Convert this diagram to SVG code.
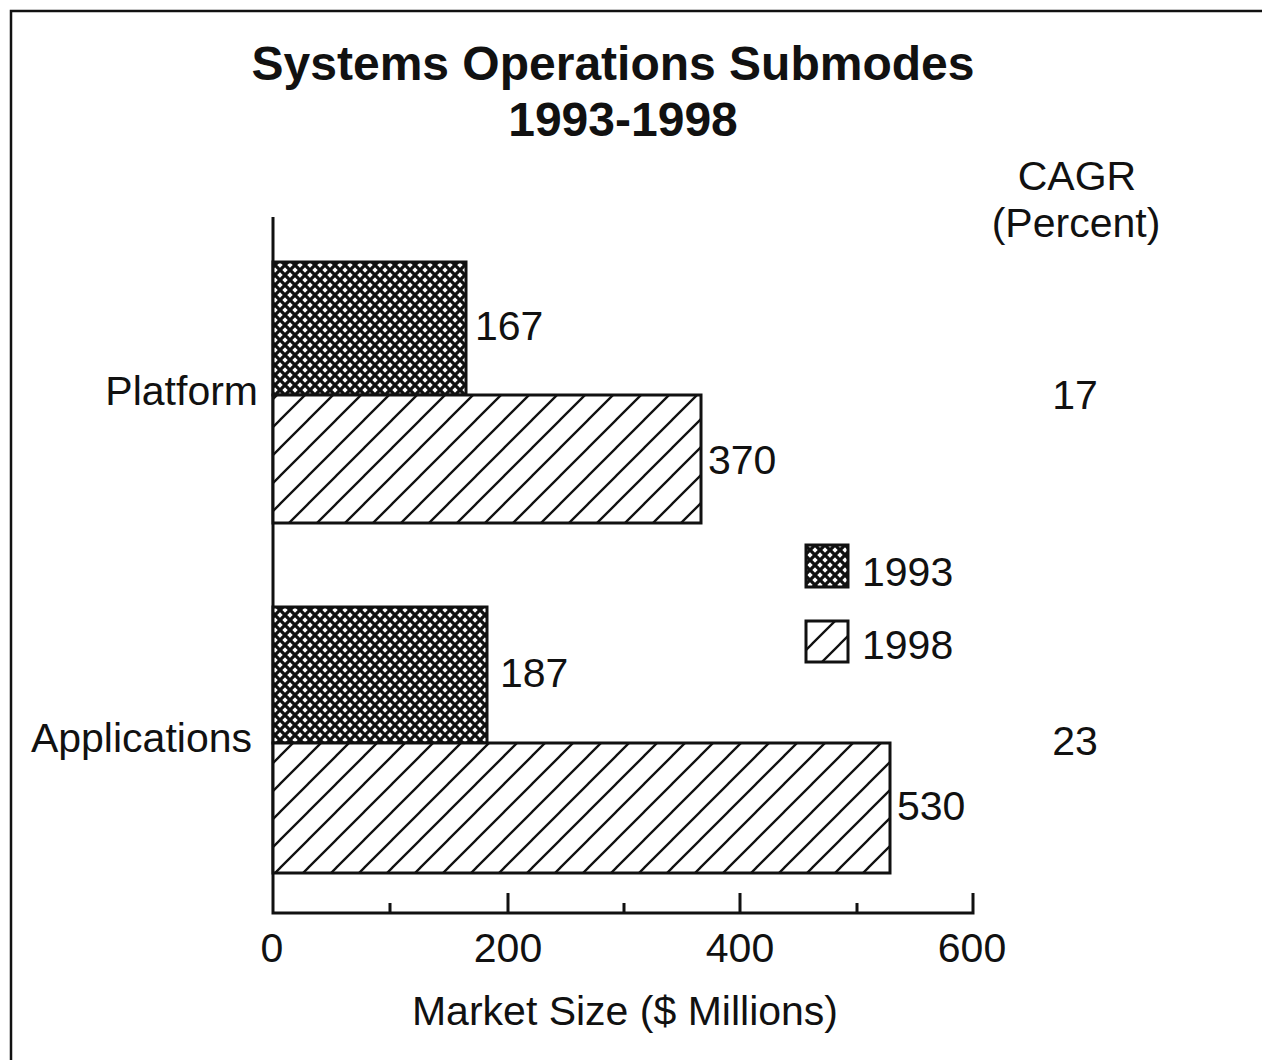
<svg xmlns="http://www.w3.org/2000/svg" width="1262" height="1060" viewBox="0 0 1262 1060">
<style>
text{font-family:"Liberation Sans",Arial,sans-serif;fill:#111;font-size:41px}
.title{font-weight:bold;font-size:48px;text-anchor:middle}
.mid{text-anchor:middle}
.end{text-anchor:end}
.bar{stroke:#111;stroke-width:3}
.axis{stroke:#111;stroke-width:3;fill:none}
</style>
<defs>
<pattern id="cross" patternUnits="userSpaceOnUse" width="10" height="10">
<rect width="10" height="10" fill="#fff"/>
<path d="M0,0L10,10M0,10L10,0" stroke="#111" stroke-width="3.3"/>
</pattern>
<pattern id="hatch" patternUnits="userSpaceOnUse" width="28" height="28">
<rect width="28" height="28" fill="#fff"/>
<path d="M-2,30L30,-2M-16,16L16,-16M12,44L44,12" stroke="#111" stroke-width="2.3"/>
</pattern>
</defs>
<rect width="1262" height="1060" fill="#fff"/>
<path d="M11,1060V11H1262" fill="none" stroke="#111" stroke-width="2.5"/>
<g id="title">
<text class="title" x="613" y="80">Systems Operations Submodes</text>
<text class="title" x="623" y="136">1993-1998</text>
</g>
<g id="cagr-header">
<text class="mid" x="1077" y="190">CAGR</text>
<text class="mid" x="1076" y="237">(Percent)</text>
</g>
<g id="axes">
<path class="axis" d="M273,217V913H973V893"/>
<path class="axis" d="M390,913V903M508,913V893M624,913V903M740,913V893M857,913V903"/>
<text class="mid" x="272" y="962">0</text>
<text class="mid" x="508" y="962">200</text>
<text class="mid" x="740" y="962">400</text>
<text class="mid" x="972" y="962">600</text>
<text class="mid" x="625" y="1025">Market Size ($ Millions)</text>
</g>
<g id="platform">
<text class="end" x="258" y="405">Platform</text>
<rect class="bar" x="273" y="262" width="193" height="133" fill="url(#cross)"/>
<rect class="bar" x="273" y="395" width="428" height="128" fill="url(#hatch)"/>
<text x="475" y="340">167</text>
<text x="708" y="474">370</text>
<text class="mid" x="1075" y="409">17</text>
</g>
<g id="applications">
<text class="end" x="252" y="752">Applications</text>
<rect class="bar" x="273" y="607" width="214" height="136" fill="url(#cross)"/>
<rect class="bar" x="273" y="743" width="617" height="130" fill="url(#hatch)"/>
<text x="500" y="687">187</text>
<text x="897" y="820">530</text>
<text class="mid" x="1075" y="755">23</text>
</g>
<g id="legend">
<rect class="bar" x="806" y="545" width="42" height="42" fill="url(#cross)"/>
<text x="862" y="586">1993</text>
<rect class="bar" x="806" y="621" width="42" height="41" fill="url(#hatch)"/>
<text x="862" y="659">1998</text>
</g>
</svg>
